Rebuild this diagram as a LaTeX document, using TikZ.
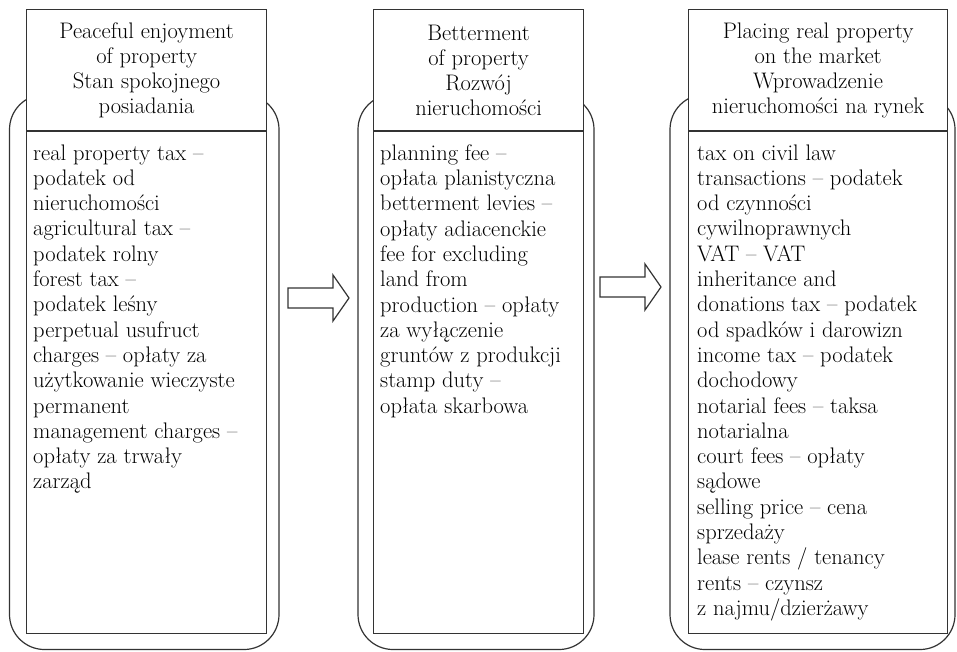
\documentclass[tikz,border=0pt]{standalone}
\usetikzlibrary{positioning}

\tikzset{
  headbox/.style={draw=black!80, fill=white, line width=1.2pt, align=center,
    inner sep=0pt, minimum height=121pt, anchor=north west,
    font=\fontsize{22.5}{25}\selectfont},
  bodybox/.style={draw=black!80, line width=1.2pt, inner sep=0pt,
    minimum height=502pt, anchor=north},
  listtext/.style={align=left, inner sep=0pt, text=black,
    font=\fontsize{22.5}{25.3}\selectfont},
  frame/.style={draw=black!80, line width=1.2pt, rounded corners=35pt}
}

\begin{document}
\begin{tikzpicture}[x=1pt, y=-1pt]
\useasboundingbox (0,0) rectangle (957,651);
% rounded frames behind the columns
\foreach \xa/\xb in {9.5/279, 358/594, 670/955} {
 \draw[frame] (\xa,94.5) rectangle (\xb,649.5);
}
% column heads
\node[headbox, minimum width=240pt] (head1) at (26,9)
  {Peaceful enjoyment\\of property\\Stan spokojnego\\posiadania};
\node[headbox, minimum width=210pt] (head2) at (373,9)
  {Betterment\\of property\\Rozwój\\nieruchomości};
\node[headbox, minimum width=259pt] (head3) at (688,9)
  {Placing real property\\on the market\\Wprowadzenie\\nieruchomości na rynek};
% column bodies
\node[bodybox, minimum width=240pt] (body1) at (head1.south) {};
\node[bodybox, minimum width=210pt] (body2) at (head2.south) {};
\node[bodybox, minimum width=259pt] (body3) at (head3.south) {};
\node[listtext, below right=13pt and 7pt of body1.north west] (list1)
  {real property tax --\\podatek od\\nieruchomości\\agricultural tax --\\podatek rolny\\
   forest tax --\\podatek leśny\\perpetual usufruct\\charges -- opłaty za\\
   użytkowanie wieczyste\\permanent\\management charges --\\opłaty za trwały\\zarząd};
\node[listtext, below right=13pt and 7pt of body2.north west] (list2)
  {planning fee --\\opłata planistyczna\\betterment levies --\\opłaty adiacenckie\\
   fee for excluding\\land from\\production -- opłaty\\za wyłączenie\\
   gruntów z produkcji\\stamp duty --\\opłata skarbowa};
\node[listtext, below right=13pt and 9pt of body3.north west] (list3)
  {tax on civil law\\transactions -- podatek\\od czynności\\cywilnoprawnych\\VAT -- VAT\\
   inheritance and\\donations tax -- podatek\\od spadków i darowizn\\
   income tax -- podatek\\dochodowy\\notarial fees -- taksa\\notarialna\\
   court fees -- opłaty\\sądowe\\selling price -- cena\\sprzedaży\\
   lease rents / tenancy\\rents -- czynsz\\z najmu/dzierżawy};
% block arrows between the columns
\foreach \x/\y in {288/298, 600/287} {
 \draw[black!80, line width=1.2pt, line join=miter] (\x,\y) ++(0,-10) -- ++(45,0) -- ++(0,-13)
   -- ++(16,23) -- ++(-16,23) -- ++(0,-13) -- ++(-45,0) -- cycle;
}
\end{tikzpicture}
\end{document}
